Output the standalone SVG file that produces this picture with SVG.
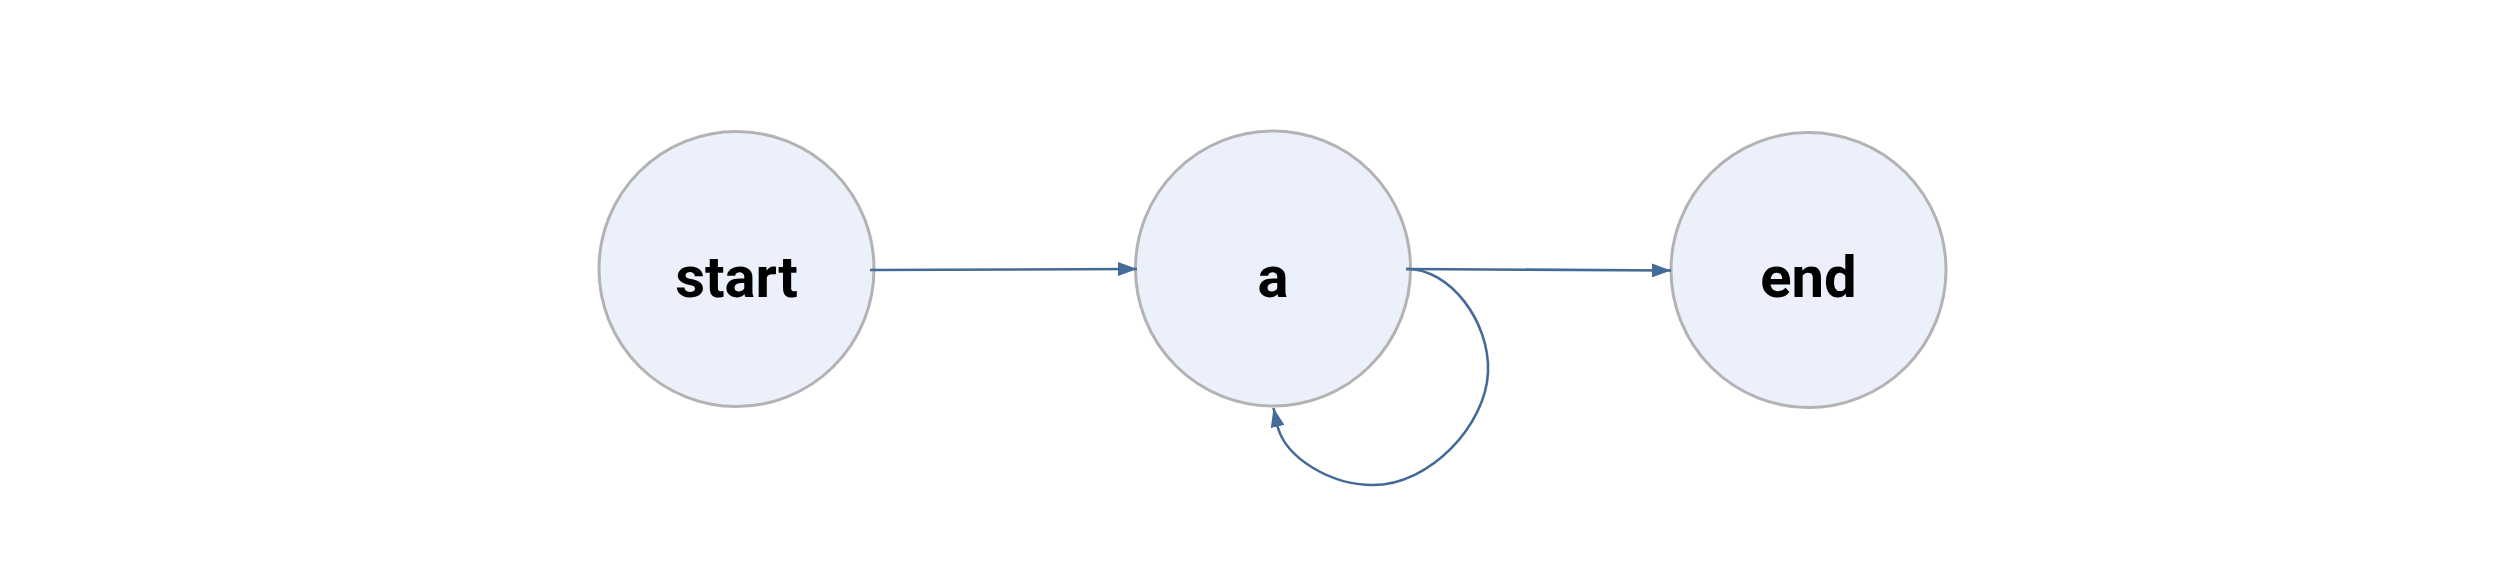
<svg xmlns="http://www.w3.org/2000/svg" width="2511" height="584" viewBox="0 0 2511 584">
<style>
.node circle{fill:#ecf0fb;stroke:#b3b3b3;stroke-width:3}
.node text{font-family:Roboto,"Liberation Sans",sans-serif;font-weight:700;font-size:58px;fill:#000;text-anchor:middle}
.edge{fill:none;stroke:#446a98;stroke-width:2.6;marker-end:url(#arrow)}
</style>
<defs>
<marker id="arrow" markerUnits="userSpaceOnUse" markerWidth="20" markerHeight="14" refX="19" refY="7" orient="auto" viewBox="0 0 20 14">
<path d="M0,0 L19,7 L0,14 z" fill="#446a98"/>
</marker>
</defs>
<rect width="2511" height="584" fill="#fff"/>
<g id="node-start" class="node">
<circle cx="736.5" cy="269" r="137.5"/>
<text x="736.5" y="297">start</text>
</g>
<g id="node-a" class="node">
<circle cx="1273" cy="268.5" r="137.5"/>
<text x="1273" y="297">a</text>
</g>
<g id="node-end" class="node">
<circle cx="1808.5" cy="270" r="137.5"/>
<text x="1808.5" y="297">end</text>
</g>
<g id="connectors">
<path class="edge" d="M870,270 L1137,269"/>
<path class="edge" d="M1406,269 L1671,270.5"/>
<path class="edge" d="M1406,269 C1450,268 1490,322 1488,372 C1486,425 1430,485 1373,485 C1330,485 1287,458 1278,428 L1273.5,408"/>
</g>
</svg>
